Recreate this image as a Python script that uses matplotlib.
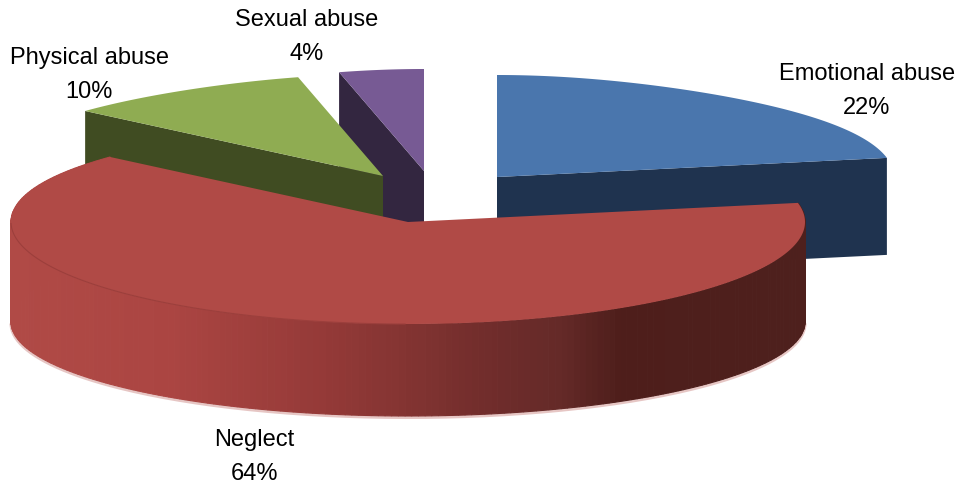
import numpy as np
import matplotlib
matplotlib.use('Agg')
import matplotlib.pyplot as plt
from matplotlib.colors import LinearSegmentedColormap

plt.rcParams['font.family'] = ['Liberation Sans', 'DejaVu Sans']

# data, clockwise from the top
labels = ['Emotional abuse', 'Neglect', 'Physical abuse', 'Sexual abuse']
values = [22, 64, 10, 4]

# slice look
top_colors = ['#4a76ad', '#b04a46', '#8fac52', '#775a94']
side_colors = ['#1f334f', '#b04a46', '#404c22', '#332640']
centers = [(497, 177), (408, 222), (383, 176), (424, 171)]
label_pos = [(867, 91), (254, 457), (89, 75), (307, 37)]

RX, RY = 397, 102
DEPTH = 97
K = 0.159  # the far side of the pie looks narrower


edges = np.cumsum([0] + values) / sum(values) * 2 * np.pi


def rim(c, t):
    squeeze = 1 - K * np.clip(np.cos(t), 0, None) ** 4
    return c[0] + RX * np.sin(t) * squeeze, c[1] - RY * np.cos(t)


def wall_depth(t):
    # wall looks a bit lower at the front
    return DEPTH + 3 - 8 * np.clip(-np.cos(t), 0, 1)


# shade of the neglect wall, by x from 11 to 805
x_stops = [11, 170, 320, 430, 480, 560, 620, 805]
col_stops = ['#b04a46', '#ab4542', '#953a38', '#7e3230', '#722d2c', '#652a28',
             '#4e1e1b', '#4e201d']
wall = LinearSegmentedColormap.from_list(
    'wall', [((xs - 11) / 794, cs) for xs, cs in zip(x_stops, col_stops)])

fig = plt.figure(figsize=(9.6, 4.86), dpi=100)
ax = fig.add_axes([0, 0, 1, 1])
ax.set_xlim(0, 960)
ax.set_ylim(486, 0)
ax.axis('off')

# back slices first, neglect goes on top of them
for i in [3, 2, 0, 1]:
    c = centers[i]
    t = np.linspace(edges[i], edges[i + 1], 240)
    x, y = rim(c, t)
    if i == 1:
        # pale fuzz under the wall, front part only
        front = t[(t > np.pi / 2) & (t < 1.5 * np.pi)]
        fx, fy = rim(c, front)
        ax.plot(fx, fy + wall_depth(front) + 1.5, color='#e6c6c4', lw=2.2)
        # outer wall in thin strips for the gradient
        for a, b in zip(t[:-1], t[1:]):
            xa, ya = rim(c, a)
            xb, yb = rim(c, b)
            col = wall((0.5 * (xa + xb) - 11) / 794)
            ax.fill([xa, xb, xb, xa],
                    [ya, yb, yb + wall_depth(b), ya + wall_depth(a)],
                    color=col, lw=0.8, zorder=3)
    else:
        # flat cut face, the one that looks to the viewer
        j = i if i != 0 else i + 1
        tipx, tipy = rim(c, edges[j])
        ax.fill([c[0], tipx, tipx, c[0]],
                [c[1], tipy, tipy + DEPTH, c[1] + DEPTH],
                color=side_colors[i], lw=0)
    ax.fill(np.r_[c[0], x], np.r_[c[1], y], color=top_colors[i], lw=0,
            zorder=3 if i == 1 else 1)
    if i == 1:
        low = t[(t > np.pi) & (t < 1.5 * np.pi)]
        lx, ly = rim(c, low)
        ax.plot(lx, ly, color='#9c3f3c', lw=0.8, zorder=4)

for name, val, (lx, ly) in zip(labels, values, label_pos):
    ax.text(lx, ly, '%s\n%d%%' % (name, val), ha='center', va='center',
            fontsize=17, color='black', linespacing=1.65)

fig.savefig('out.png', dpi=100)
